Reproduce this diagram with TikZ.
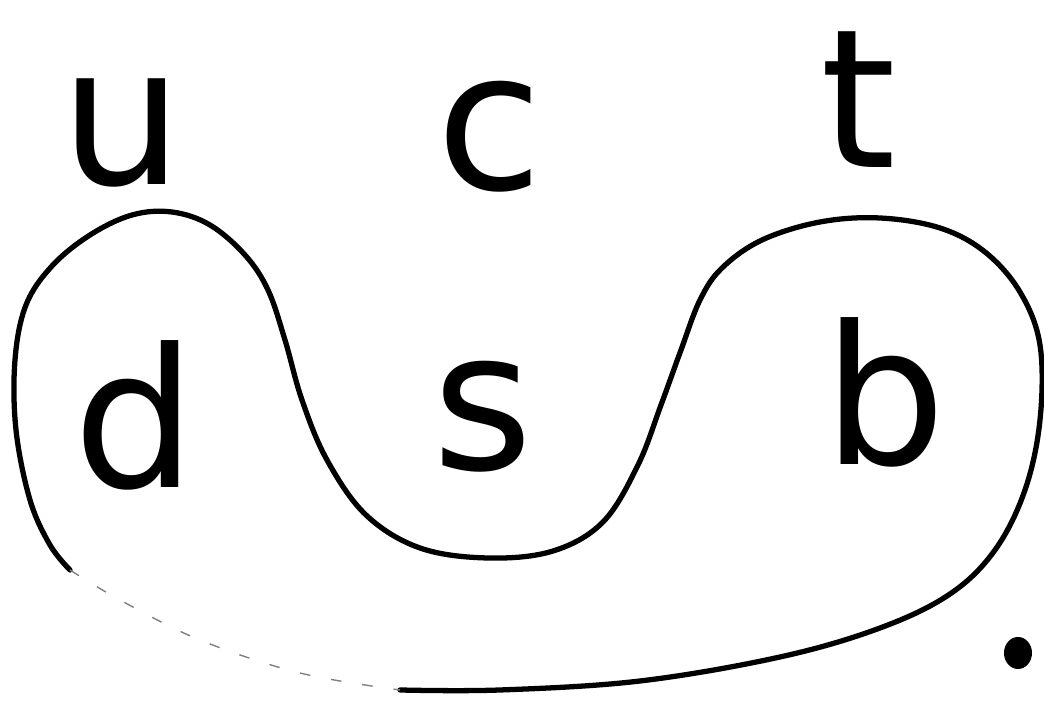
\documentclass[tikz,border=0pt]{standalone}
\usepackage{fontspec}
\setmainfont{DejaVu Sans}
\usetikzlibrary{positioning}

\tikzset{
  quark/.style={font=\fontsize{55}{55}\selectfont, anchor=base, inner sep=0pt},
  loopline/.style={line width=1.5pt, line join=round, line cap=round}
}

\begin{document}
\begin{tikzpicture}[x=0.01cm, y=-0.01cm]
    \useasboundingbox (0,0) rectangle (1044,704);

    % Upper row
    \node[quark] (u) at (122,185) {u};
    \node[quark] (c) at (490,190) {c};
    \node[quark] (t) at (858,168) {t};

    % Lower row
    \node[quark] (d) at (135,488) {d};
    \node[quark] (s) at (483,470) {s};
    \node[quark] (b) at (885,465) {b};

    % Curve round the lower row
    \draw[loopline] plot[smooth, tension=0.6] coordinates {
        (400,690) (500,690) (640,681) (780,657) (880,628) (950,594)
        (995,550) (1025,490) (1040,420) (1040,345) (1020,292) (985,252)
        (940,228) (880,218) (820,222) (762,240) (722,268) (700,300)
        (681,350) (661,405) (638,465) (603,522) (553,551) (488,558)
        (420,548) (366,515) (327,460) (302,400) (285,340) (268,290)
        (245,255) (210,225) (172,212) (132,215) (90,235) (52,266)
        (26,305) (15,360) (16,430) (30,500) (50,545) (70,570)};
    % faint stretch at the bottom
    \draw[line width=0.4pt, dash pattern=on 3pt off 6pt, gray]
        plot[smooth, tension=0.6] coordinates {
        (70,570) (120,600) (200,640) (300,673) (400,690)};

    % Dot
    \fill (1018,653) ellipse (14 and 16);
\end{tikzpicture}
\end{document}
